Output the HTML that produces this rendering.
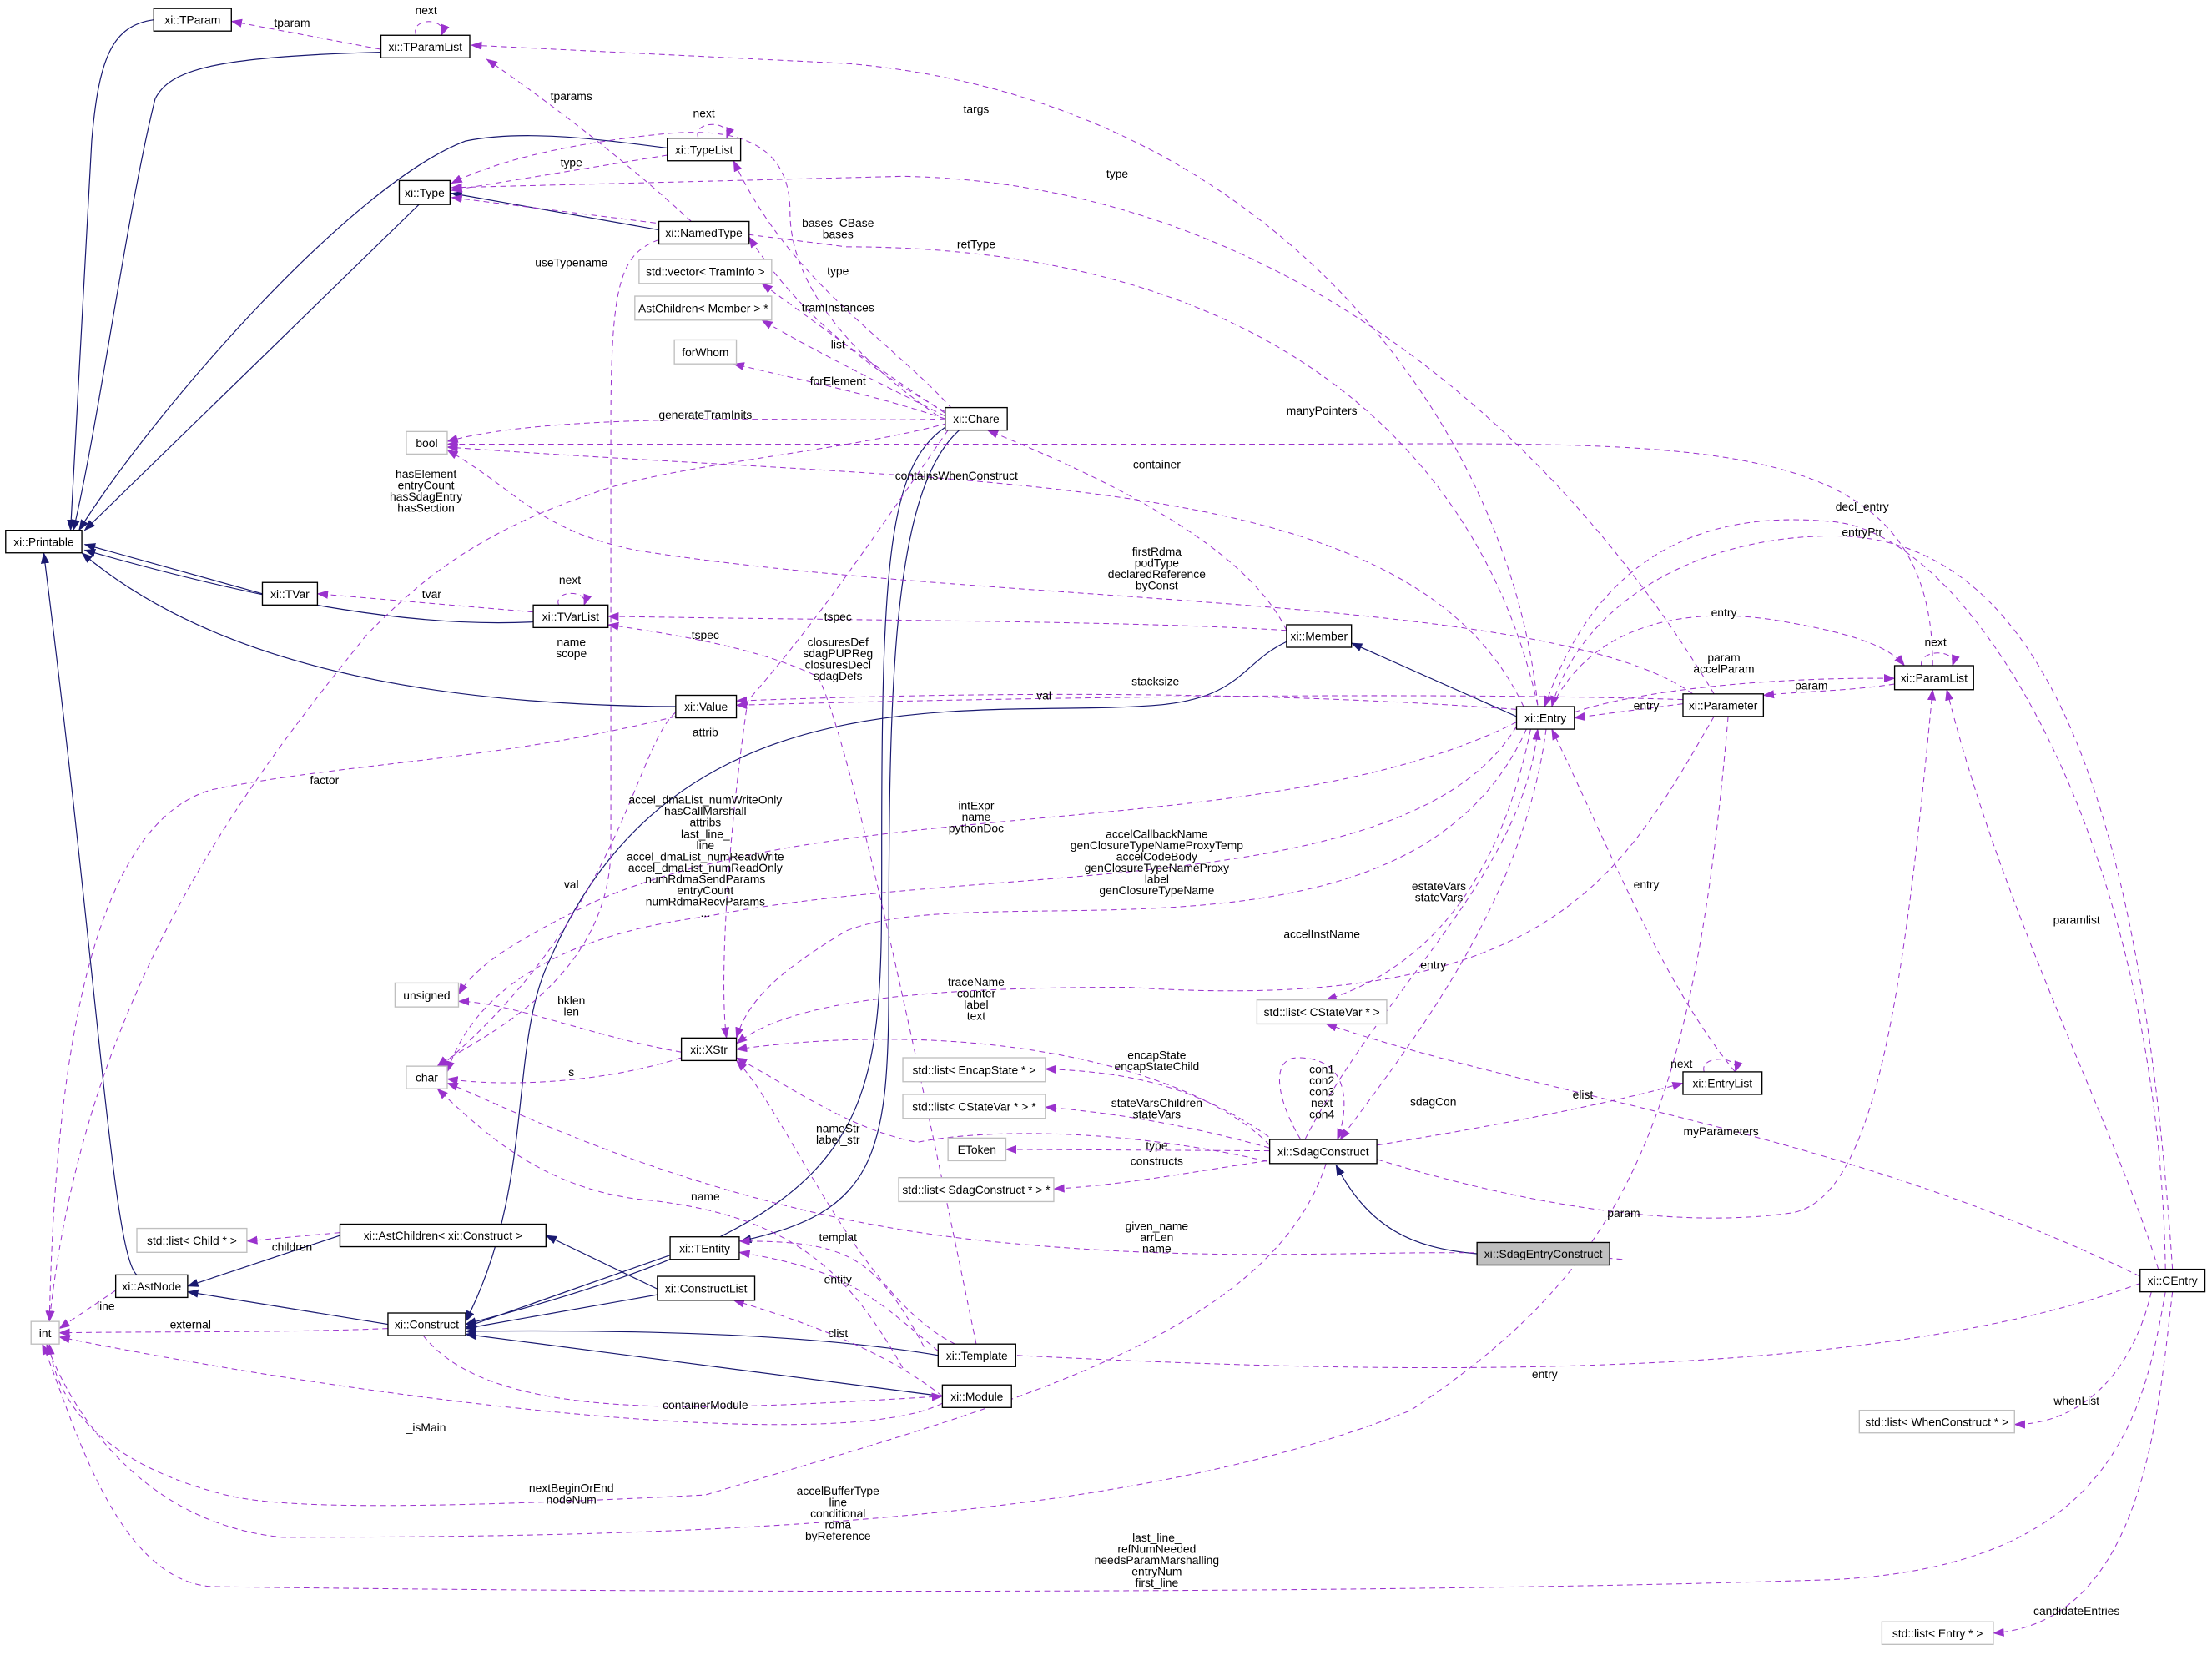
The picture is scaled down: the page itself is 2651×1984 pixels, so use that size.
<!DOCTYPE html>
<html><head><meta charset="utf-8"><style>
html,body{margin:0;padding:0;background:#fff;}
svg{display:block}
text{font-family:"Liberation Sans",sans-serif;font-size:8.2px;fill:#000}
.b{fill:#fff;stroke:#000;stroke-width:0.8}
.g{fill:#fff;stroke:#bfbfbf;stroke-width:0.8}
.d{fill:none;stroke:#9a32cd;stroke-width:0.6;stroke-dasharray:4,3}
.n{fill:none;stroke:#191970;stroke-width:0.7}
</style></head><body>
<svg width="2651" height="1984" viewBox="0 0 1568 1173.5" xmlns="http://www.w3.org/2000/svg">
<defs>
<marker id="p" markerWidth="8" markerHeight="6" refX="7.5" refY="3" orient="auto" markerUnits="userSpaceOnUse"><path d="M0,0L8,3L0,6z" fill="#9a32cd"/></marker>
<marker id="v" markerWidth="8" markerHeight="6" refX="7.5" refY="3" orient="auto" markerUnits="userSpaceOnUse"><path d="M0,0L8,3L0,6z" fill="#191970"/></marker>
</defs>
<g class="n" marker-end="url(#v)">
<path d="M109,14 C80,18 70,40 65,100 L50,376"/>
<path d="M270,37 C150,40 120,50 110,70 C90,150 70,300 52,376"/>
<path d="M473,105 C420,98 370,92 330,100 C250,130 110,290 56,376"/>
<path d="M297,145 L60,376"/>
<path d="M467,163 L320,137"/>
<path d="M186,421 L60,386"/>
<path d="M378,441 C300,445 200,430 60,390"/>
<path d="M479,501 C300,500 150,470 58,392"/>
<path d="M97,904 C80,890 70,700 31,392"/>
<path d="M1075,508 L958,456"/>
<path d="M241,876 L133,912"/>
<path d="M466,914 L387,876"/>
<path d="M275,939 L133,916"/>
<path d="M912,455 C880,470 880,495 820,500 C700,510 480,470 390,680 C360,740 380,840 330,937"/>
<path d="M670,303 C630,330 625,400 625,600 C625,800 630,860 330,939"/>
<path d="M680,305 C630,350 630,500 630,700 C630,820 620,860 525,880"/>
<path d="M475,890 L330,941"/>
<path d="M466,918 L330,942"/>
<path d="M665,961 C600,950 500,942 330,944"/>
<path d="M668,990 L330,946"/>
<path d="M1047,889 C1000,885 970,870 947,826"/>
</g>
<g class="d" marker-end="url(#p)">
<path d="M270,35 L164,15"/>
<path d="M295,25 C290,12 318,12 313,25"/>
<path d="M1090,500 C1070,300 900,70 600,45 L334,32"/>
<path d="M490,157 C450,120 400,80 345,42"/>
<path d="M495,98 C490,85 520,85 515,98"/>
<path d="M473,110 L320,135"/>
<path d="M1215,492 C1100,300 900,130 640,125 L320,133"/>
<path d="M665,295 C600,250 560,200 560,150 C560,100 520,90 470,95 C420,100 360,110 320,130"/>
<path d="M675,290 C630,240 560,200 520,114"/>
<path d="M1090,500 C1050,320 900,175 600,175 L320,140"/>
<path d="M670,292 C630,270 570,230 531,168"/>
<path d="M670,293 C620,260 580,230 540,201"/>
<path d="M670,295 C620,270 580,250 540,227"/>
<path d="M670,297 C620,280 570,270 520,258"/>
<path d="M670,297 C600,300 400,290 317,313"/>
<path d="M1370,472 C1370,300 1200,315 900,315 L317,315"/>
<path d="M1080,501 C1000,330 700,345 317,317"/>
<path d="M912,447 C880,380 760,330 700,305"/>
<path d="M1200,492 C1100,420 700,430 450,390 C380,375 370,350 317,319"/>
<path d="M672,300 C600,320 470,330 420,350 C330,380 290,420 260,450 C180,550 60,700 35,937"/>
<path d="M1535,900 C1530,600 1400,380 1300,370 C1200,360 1130,400 1095,501"/>
<path d="M1540,900 C1520,600 1460,380 1300,380 C1200,380 1120,430 1100,501"/>
<path d="M378,434 L225,421"/>
<path d="M396,429 C392,418 418,418 414,429"/>
<path d="M912,447 C800,440 600,440 431,437"/>
<path d="M692,953 C640,700 600,520 580,480 C540,460 480,450 431,443"/>
<path d="M1100,501 C1130,440 1200,430 1260,440 C1320,450 1340,460 1350,472"/>
<path d="M1116,505 C1160,490 1250,480 1343,481"/>
<path d="M1343,485 C1310,490 1280,490 1250,493"/>
<path d="M1193,499 L1116,509"/>
<path d="M1362,472 C1360,460 1388,460 1384,472"/>
<path d="M1193,496 C1000,490 700,495 522,500"/>
<path d="M1075,503 C900,490 700,490 522,497"/>
<path d="M672,305 C620,380 580,440 530,497 C515,600 510,700 515,736"/>
<path d="M467,170 C440,180 433,200 433,300 L433,600 C433,700 330,740 310,756"/>
<path d="M479,505 C450,530 440,650 310,758"/>
<path d="M479,508 C350,540 250,540 150,560 C80,580 40,700 35,937"/>
<path d="M1075,512 C900,600 600,560 420,640 C380,660 340,680 325,705"/>
<path d="M1082,517 C1000,700 700,620 600,660 C550,690 530,710 522,736"/>
<path d="M1075,515 C1000,640 700,610 500,650 C420,660 340,690 317,760"/>
<path d="M1215,508 C1150,620 1100,720 800,700 C650,700 560,710 522,740"/>
<path d="M1085,517 C1060,640 1000,690 940,709"/>
<path d="M925,808 C980,700 1080,620 1090,517"/>
<path d="M1096,517 C1080,640 1000,740 950,808"/>
<path d="M1230,760 C1180,700 1140,600 1100,517"/>
<path d="M1208,760 C1204,748 1234,748 1230,760"/>
<path d="M976,812 C1080,795 1150,780 1193,768"/>
<path d="M922,808 C905,780 900,750 920,750 C960,750 955,790 948,808"/>
<path d="M900,812 C850,760 700,720 522,744"/>
<path d="M905,810 C850,770 800,760 741,758"/>
<path d="M900,814 C850,800 800,790 741,785"/>
<path d="M900,816 L713,815"/>
<path d="M905,822 C850,830 800,840 747,843"/>
<path d="M1517,905 C1300,800 1100,780 940,726"/>
<path d="M976,822 C1100,860 1200,870 1270,860 C1330,850 1350,700 1370,489"/>
<path d="M483,746 C420,735 360,710 325,710"/>
<path d="M483,750 C420,770 350,770 317,765"/>
<path d="M905,825 C800,800 700,800 650,810 C600,800 560,770 522,750"/>
<path d="M640,970 C600,900 560,860 450,850 C380,840 340,800 310,772"/>
<path d="M655,955 C620,890 600,880 524,880"/>
<path d="M665,958 C620,920 600,900 524,888"/>
<path d="M241,874 L175,880"/>
<path d="M82,915 L42,942"/>
<path d="M275,942 C200,945 120,944 42,945"/>
<path d="M668,990 C630,960 580,940 520,922"/>
<path d="M300,947 C350,1010 500,1000 668,990"/>
<path d="M668,995 C600,1030 300,1000 42,948"/>
<path d="M1150,893 C1000,880 900,900 700,880 C500,860 350,780 317,768"/>
<path d="M1517,910 C1300,990 900,970 700,960 C620,950 560,790 522,752"/>
<path d="M1525,916 C1510,980 1470,1010 1428,1010"/>
<path d="M940,825 C900,950 700,1000 500,1060 C300,1070 200,1070 160,1060 C80,1040 40,1000 35,953"/>
<path d="M1225,508 C1200,800 1150,900 1000,1000 C800,1080 500,1090 200,1090 C100,1080 50,1000 33,953"/>
<path d="M1535,916 C1520,1000 1500,1110 1300,1120 C1000,1130 500,1130 150,1125 C80,1120 50,1000 30,953"/>
<path d="M1540,916 C1530,1000 1520,1150 1413,1158"/>
<path d="M1530,900 C1500,800 1420,650 1380,489"/>
</g>
<g>
<rect class="b" x="109" y="6" width="55" height="16"/><text x="136.5" y="17" text-anchor="middle">xi::TParam</text>
<rect class="b" x="270" y="25" width="63" height="16"/><text x="301.5" y="36" text-anchor="middle">xi::TParamList</text>
<rect class="b" x="473" y="98" width="52" height="16"/><text x="499" y="109" text-anchor="middle">xi::TypeList</text>
<rect class="b" x="283" y="128" width="36" height="17"/><text x="301" y="139.5" text-anchor="middle">xi::Type</text>
<rect class="b" x="467" y="157" width="64" height="16"/><text x="499" y="168" text-anchor="middle">xi::NamedType</text>
<rect class="g" x="453" y="184" width="94" height="17"/><text x="500" y="195.5" text-anchor="middle">std::vector&lt; TramInfo &gt;</text>
<rect class="g" x="450" y="210" width="97" height="17"/><text x="498.5" y="221.5" text-anchor="middle">AstChildren&lt; Member &gt; *</text>
<rect class="g" x="478" y="241" width="44" height="17"/><text x="500" y="252.5" text-anchor="middle">forWhom</text>
<rect class="g" x="288" y="306" width="29" height="16"/><text x="302.5" y="317" text-anchor="middle">bool</text>
<rect class="b" x="670" y="289" width="44" height="16"/><text x="692" y="300" text-anchor="middle">xi::Chare</text>
<rect class="b" x="4" y="376" width="54" height="16"/><text x="31" y="387" text-anchor="middle">xi::Printable</text>
<rect class="b" x="186" y="413" width="39" height="16"/><text x="205.5" y="424" text-anchor="middle">xi::TVar</text>
<rect class="b" x="378" y="429" width="53" height="16"/><text x="404.5" y="440" text-anchor="middle">xi::TVarList</text>
<rect class="b" x="912" y="443" width="46" height="16"/><text x="935" y="454" text-anchor="middle">xi::Member</text>
<rect class="b" x="479" y="493" width="43" height="16"/><text x="500.5" y="504" text-anchor="middle">xi::Value</text>
<rect class="b" x="1075" y="501" width="41" height="16"/><text x="1095.5" y="512" text-anchor="middle">xi::Entry</text>
<rect class="b" x="1193" y="492" width="57" height="16"/><text x="1221.5" y="503" text-anchor="middle">xi::Parameter</text>
<rect class="b" x="1343" y="472" width="56" height="17"/><text x="1371" y="483.5" text-anchor="middle">xi::ParamList</text>
<rect class="g" x="280" y="697" width="45" height="17"/><text x="302.5" y="708.5" text-anchor="middle">unsigned</text>
<rect class="g" x="891" y="709" width="92" height="17"/><text x="937" y="720.5" text-anchor="middle">std::list&lt; CStateVar * &gt;</text>
<rect class="b" x="483" y="736" width="39" height="16"/><text x="502.5" y="747" text-anchor="middle">xi::XStr</text>
<rect class="g" x="288" y="756" width="29" height="16"/><text x="302.5" y="767" text-anchor="middle">char</text>
<rect class="g" x="640" y="750" width="101" height="17"/><text x="690.5" y="761.5" text-anchor="middle">std::list&lt; EncapState * &gt;</text>
<rect class="b" x="1193" y="760" width="56" height="16"/><text x="1221" y="771" text-anchor="middle">xi::EntryList</text>
<rect class="g" x="640" y="776" width="101" height="17"/><text x="690.5" y="787.5" text-anchor="middle">std::list&lt; CStateVar * &gt; *</text>
<rect class="g" x="672" y="807" width="41" height="16"/><text x="692.5" y="818" text-anchor="middle">EToken</text>
<rect class="b" x="900" y="808" width="76" height="17"/><text x="938" y="819.5" text-anchor="middle">xi::SdagConstruct</text>
<rect class="g" x="637" y="835" width="110" height="17"/><text x="692" y="846.5" text-anchor="middle">std::list&lt; SdagConstruct * &gt; *</text>
<rect x="1047" y="881" width="94" height="16" fill="#bfbfbf" stroke="#000" stroke-width="0.8"/><text x="1094" y="892" text-anchor="middle">xi::SdagEntryConstruct</text>
<rect class="g" x="97" y="871" width="78" height="17"/><text x="136" y="882.5" text-anchor="middle">std::list&lt; Child * &gt;</text>
<rect class="b" x="241" y="868" width="146" height="16"/><text x="314" y="879" text-anchor="middle">xi::AstChildren&lt; xi::Construct &gt;</text>
<rect class="b" x="475" y="877" width="49" height="16"/><text x="499.5" y="888" text-anchor="middle">xi::TEntity</text>
<rect class="b" x="82" y="904" width="51" height="16"/><text x="107.5" y="915" text-anchor="middle">xi::AstNode</text>
<rect class="b" x="466" y="905" width="69" height="17"/><text x="500.5" y="916.5" text-anchor="middle">xi::ConstructList</text>
<rect class="b" x="275" y="931" width="55" height="16"/><text x="302.5" y="942" text-anchor="middle">xi::Construct</text>
<rect class="g" x="22" y="937" width="20" height="16"/><text x="32" y="948" text-anchor="middle">int</text>
<rect class="b" x="665" y="953" width="55" height="16"/><text x="692.5" y="964" text-anchor="middle">xi::Template</text>
<rect class="b" x="668" y="982" width="49" height="16"/><text x="692.5" y="993" text-anchor="middle">xi::Module</text>
<rect class="b" x="1517" y="900" width="46" height="16"/><text x="1540" y="911" text-anchor="middle">xi::CEntry</text>
<rect class="g" x="1318" y="1000" width="110" height="16"/><text x="1373" y="1011" text-anchor="middle">std::list&lt; WhenConstruct * &gt;</text>
<rect class="g" x="1334" y="1150" width="79" height="16"/><text x="1373.5" y="1161" text-anchor="middle">std::list&lt; Entry * &gt;</text>
</g>
<g text-anchor="middle">
<text x="207" y="19">tparam</text><text x="302" y="10">next</text><text x="692" y="80">targs</text>
<text x="405" y="71">tparams</text><text x="499" y="83">next</text><text x="405" y="118">type</text>
<text x="792" y="126">type</text><text x="594" y="161">bases_CBase</text><text x="594" y="169">bases</text>
<text x="692" y="176">retType</text><text x="594" y="195">type</text><text x="405" y="189">useTypename</text>
<text x="594" y="221">tramInstances</text><text x="594" y="247">list</text><text x="594" y="273">forElement</text>
<text x="500" y="297">generateTramInits</text><text x="937" y="294">manyPointers</text>
<text x="820" y="332">container</text><text x="678" y="340">containsWhenConstruct</text>
<text x="302" y="339">hasElement</text><text x="302" y="347">entryCount</text><text x="302" y="355">hasSdagEntry</text><text x="302" y="363">hasSection</text>
<text x="1320" y="362">decl_entry</text><text x="1320" y="380">entryPtr</text>
<text x="820" y="394">firstRdma</text><text x="820" y="402">podType</text><text x="820" y="410">declaredReference</text><text x="820" y="418">byConst</text>
<text x="306" y="424">tvar</text><text x="404" y="414">next</text><text x="594" y="440">tspec</text><text x="500" y="453">tspec</text>
<text x="405" y="458">name</text><text x="405" y="466">scope</text>
<text x="1222" y="437">entry</text><text x="1372" y="458">next</text><text x="1222" y="469">param</text><text x="1222" y="477">accelParam</text>
<text x="1284" y="489">param</text><text x="1167" y="503">entry</text><text x="740" y="496">val</text><text x="819" y="486">stacksize</text>
<text x="594" y="458">closuresDef</text><text x="594" y="466">sdagPUPReg</text><text x="594" y="474">closuresDecl</text><text x="594" y="482">sdagDefs</text>
<text x="500" y="522">attrib</text><text x="230" y="556">factor</text><text x="405" y="630">val</text>
<text x="500" y="570">accel_dmaList_numWriteOnly</text><text x="500" y="578">hasCallMarshall</text><text x="500" y="586">attribs</text><text x="500" y="594">last_line_</text><text x="500" y="602">line</text><text x="500" y="610">accel_dmaList_numReadWrite</text><text x="500" y="618">accel_dmaList_numReadOnly</text><text x="500" y="626">numRdmaSendParams</text><text x="500" y="634">entryCount</text><text x="500" y="642">numRdmaRecvParams</text><text x="500" y="650">...</text>
<text x="692" y="574">intExpr</text><text x="692" y="582">name</text><text x="692" y="590">pythonDoc</text>
<text x="820" y="594">accelCallbackName</text><text x="820" y="602">genClosureTypeNameProxyTemp</text><text x="820" y="610">accelCodeBody</text><text x="820" y="618">genClosureTypeNameProxy</text><text x="820" y="626">label</text><text x="820" y="634">genClosureTypeName</text>
<text x="1020" y="631">estateVars</text><text x="1020" y="639">stateVars</text><text x="1167" y="630">entry</text>
<text x="937" y="665">accelInstName</text><text x="1016" y="687">entry</text>
<text x="692" y="699">traceName</text><text x="692" y="707">counter</text><text x="692" y="715">label</text><text x="692" y="723">text</text>
<text x="937" y="761">con1</text><text x="937" y="769">con2</text><text x="937" y="777">con3</text><text x="937" y="785">next</text><text x="937" y="793">con4</text>
<text x="405" y="712">bklen</text><text x="405" y="720">len</text><text x="405" y="763">s</text>
<text x="1192" y="757">next</text><text x="1016" y="784">sdagCon</text><text x="1122" y="779">elist</text>
<text x="820" y="751">encapState</text><text x="820" y="759">encapStateChild</text>
<text x="820" y="785">stateVarsChildren</text><text x="820" y="793">stateVars</text>
<text x="820" y="815">type</text><text x="820" y="826">constructs</text>
<text x="1220" y="805">myParameters</text><text x="1151" y="863">param</text>
<text x="594" y="803">nameStr</text><text x="594" y="811">label_str</text>
<text x="500" y="851">name</text><text x="594" y="880">templat</text><text x="594" y="910">entity</text>
<text x="820" y="872">given_name</text><text x="820" y="880">arrLen</text><text x="820" y="888">name</text>
<text x="207" y="887">children</text><text x="75" y="929">line</text><text x="135" y="942">external</text>
<text x="594" y="948">clist</text><text x="1095" y="977">entry</text><text x="500" y="999">containerModule</text><text x="302" y="1015">_isMain</text>
<text x="1472" y="996">whenList</text><text x="1472" y="655">paramlist</text>
<text x="405" y="1058">nextBeginOrEnd</text><text x="405" y="1066">nodeNum</text>
<text x="594" y="1060">accelBufferType</text><text x="594" y="1068">line</text><text x="594" y="1076">conditional</text><text x="594" y="1084">rdma</text><text x="594" y="1092">byReference</text>
<text x="820" y="1093">last_line_</text><text x="820" y="1101">refNumNeeded</text><text x="820" y="1109">needsParamMarshalling</text><text x="820" y="1117">entryNum</text><text x="820" y="1125">first_line</text>
<text x="1472" y="1145">candidateEntries</text>
</g>
</svg>
</body></html>
